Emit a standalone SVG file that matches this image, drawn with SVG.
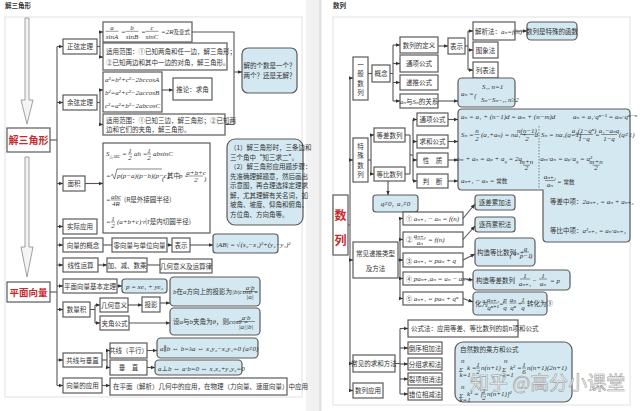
<svg xmlns="http://www.w3.org/2000/svg" width="640" height="411" viewBox="0 0 640 411">
<defs>
<marker id="a" markerWidth="5" markerHeight="5" refX="4.5" refY="2.5" orient="auto" markerUnits="userSpaceOnUse"><path d="M0,0.6 L4.5,2.5 L0,4.4 Z" fill="#333"/></marker>
<style>
.bx{fill:#fff;stroke:#5a5a5a;stroke-width:1.2}
.bu{fill:#d3e8f1;stroke:#5a5a5a;stroke-width:1.2}
.t{font-family:"Noto Sans CJK SC","Noto Sans",sans-serif;font-size:6.5px;fill:#333}
.c{text-anchor:middle}
.e{text-anchor:end}
.m{font-family:"Liberation Serif","DejaVu Serif","Noto Sans CJK SC",serif;font-style:italic;font-size:7px;fill:#333}
.k{font-family:"Noto Sans CJK SC",sans-serif;font-style:normal}
.red{font-family:"Noto Sans CJK SC",sans-serif;font-weight:bold;fill:#c8282e}
.ln line,.ln path,.ln polyline{stroke:#555;stroke-width:1.1;fill:none}
.ln .ar{marker-end:url(#a)}
.fl{stroke:#333;stroke-width:0.5}
.fr{fill:none;stroke:#e2e2e2;stroke-width:1}
.ha{fill:#f4f4f4;stroke:#8a8a8a;stroke-width:0.8}
</style>
</defs>
<rect width="640" height="411" fill="#fff"/>
<rect x="306" y="0" width="16" height="411" fill="#f1f1f1"/>
<line x1="320" y1="0" x2="320" y2="411" stroke="#d0d0d0" stroke-width="1"/>

<!-- ================= LEFT PAGE ================= -->
<text x="5" y="8" class="t" font-size="4.5" font-weight="bold">解三角形</text>
<rect class="fr" x="5" y="17" width="297" height="380"/>
<path class="ha" d="M25,18 H29 V100 H33 L27,124 L21,100 H25 Z"/>
<path class="ha" d="M25,157 H29 V247 H33 L27,277 L21,247 H25 Z"/>

<g id="n-jsjx"><rect class="bx" x="7" y="128" width="43" height="24"/><text class="red c" x="28.5" y="144" font-size="10">解三角形</text></g>
<g id="n-pmxl"><rect class="bx" x="7" y="282" width="43" height="20"/><text class="red c" x="28.5" y="296" font-size="9.5">平面向量</text></g>

<g id="n-zx"><rect class="bx" x="63" y="39" width="34" height="15"/><text class="t c" x="80" y="49">正弦定理</text></g>
<g id="n-yx"><rect class="bx" x="63" y="95" width="34" height="15"/><text class="t c" x="80" y="105">余弦定理</text></g>
<g id="n-mj"><rect class="bx" x="63" y="176" width="22" height="15"/><text class="t c" x="74" y="186">面积</text></g>
<g id="n-sjyy"><rect class="bx" x="63" y="219" width="34" height="15"/><text class="t c" x="80" y="229">实际应用</text></g>
<g id="n-xlgn"><rect class="bx" x="63" y="238" width="40" height="14"/><text class="t c" x="83" y="247.5">向量的概念</text></g>
<g id="n-xxys"><rect class="bx" x="63" y="258" width="35" height="14"/><text class="t c" x="80.5" y="267.5">线性运算</text></g>
<g id="n-jbdl"><rect class="bx" x="63" y="279" width="54" height="14"/><text class="t c" x="90" y="288.5">平面向量基本定理</text></g>
<g id="n-slj"><rect class="bx" x="63" y="302" width="27" height="15"/><text class="t c" x="76.5" y="312">数量积</text></g>
<g id="n-gxcz"><rect class="bx" x="63" y="353" width="39" height="14"/><text class="t c" x="82.5" y="362.5">共线与垂直</text></g>
<g id="n-xlyy"><rect class="bx" x="63" y="378" width="39" height="15"/><text class="t c" x="82.5" y="388">向量的应用</text></g>

<g id="n-zx-f">
<rect class="bx" x="103" y="22" width="89" height="20"/>
<text class="m c" x="112" y="29.5" font-size="6">a</text><line class="fl" x1="105.5" y1="31.3" x2="118.5" y2="31.3"/><text class="m c" x="112" y="38.5" font-size="6">sinA</text>
<text class="m" x="121" y="34" font-size="6">=</text>
<text class="m c" x="132" y="29.5" font-size="6">b</text><line class="fl" x1="125.5" y1="31.3" x2="138.5" y2="31.3"/><text class="m c" x="132" y="38.5" font-size="6">sinB</text>
<text class="m" x="141" y="34" font-size="6">=</text>
<text class="m c" x="152" y="29.5" font-size="6">c</text><line class="fl" x1="145.5" y1="31.3" x2="158.5" y2="31.3"/><text class="m c" x="152" y="38.5" font-size="6">sinC</text>
<text class="m" x="161" y="34" font-size="6">=2R<tspan class="k" font-size="5.5">及变式</tspan></text>
</g>
<g id="n-zx-sy"><rect class="bx" x="103" y="43" width="124" height="27"/>
<text class="t" x="106" y="54" font-size="5.8">适用范围：①已知两角和任一边，解三角形；</text>
<text class="t" x="106" y="65" font-size="5.8">②已知两边和其中一边的对角，解三角形。</text></g>
<g id="n-yx-f"><rect class="bx" x="103" y="72" width="59" height="40"/>
<text class="m" x="105" y="82" font-size="6.5">a²=b²+c²−2bccosA</text>
<text class="m" x="105" y="95" font-size="6.5">b²=a²+c²−2accosB</text>
<text class="m" x="105" y="108" font-size="6.5">c²=a²+b²−2abcosC</text></g>
<g id="n-tl"><rect class="bx" x="173" y="78" width="39" height="22"/><text class="t c" x="192.5" y="91.5" font-size="6">推论：求角</text></g>
<g id="n-yx-sy"><rect class="bx" x="103" y="114" width="122" height="21"/>
<text class="t" x="106" y="122.5" font-size="5.8">适用范围：①已知三边，解三角形；②已知两</text>
<text class="t" x="106" y="131.5" font-size="5.8">边和它们的夹角，解三角形。</text></g>
<g id="n-jgs"><rect class="bu" x="242" y="48" width="55" height="45" rx="6"/>
<text class="t c" x="269.5" y="68" font-size="6">解的个数是一个？</text>
<text class="t c" x="269.5" y="78" font-size="6">两个？还是无解？</text></g>

<g id="n-mj-f"><rect class="bx" x="103" y="143" width="107" height="90"/>
<text class="m" x="106" y="156">S<tspan font-size="4" dy="1.5">△ABC</tspan><tspan dy="-1.5"> =</tspan></text>
<text class="m c" x="130" y="152.5" font-size="5">1</text><line class="fl" x1="128" y1="154" x2="132" y2="154"/><text class="m c" x="130" y="159.5" font-size="5">2</text>
<text class="m" x="134" y="156">ah =</text>
<text class="m c" x="149" y="152.5" font-size="5">1</text><line class="fl" x1="147" y1="154" x2="151" y2="154"/><text class="m c" x="149" y="159.5" font-size="5">2</text>
<text class="m" x="153" y="156">absinC</text>
<text class="m" x="106" y="178">=</text>
<path d="M111,175.5 l1.5,-1 l2,4.5 l2.5,-10 H162" fill="none" stroke="#333" stroke-width="0.6"/>
<text class="m" x="117" y="178" font-size="6.3">p(p−a)(p−b)(p−c)</text>
<text class="m" x="162" y="181" font-size="13" font-style="normal">(</text>
<text class="t" x="167" y="178" font-size="5.5">其中</text>
<text class="m" x="179" y="178" font-size="6.5">p =</text>
<text class="m c" x="196" y="174.5" font-size="5.5">a+b+c</text><line class="fl" x1="189" y1="176" x2="203" y2="176"/><text class="m c" x="196" y="182" font-size="5.5">2</text>
<text class="m" x="204" y="181" font-size="13" font-style="normal">)</text>
<text class="m" x="106" y="202">=</text>
<text class="m c" x="116" y="198.5" font-size="5.5">abc</text><line class="fl" x1="111" y1="200" x2="121" y2="200"/><text class="m c" x="116" y="206" font-size="5.5">4R</text>
<text class="t" x="124" y="202" font-size="5.5">(R是外接圆半径)</text>
<text class="m" x="106" y="224">=</text>
<text class="m c" x="113" y="220.5" font-size="5">1</text><line class="fl" x1="111" y1="222" x2="115" y2="222"/><text class="m c" x="113" y="227.5" font-size="5">2</text>
<text class="m" x="117" y="224" font-size="6.5">(a+b+c)·r</text>
<text class="t" x="145" y="224" font-size="5.5">(r是内切圆半径)</text>
</g>
<g id="n-note"><rect class="bu" x="227" y="139" width="76" height="86" rx="8"/>
<text class="t" x="230" y="150" font-size="5.8">（1）解三角形时，三条边和</text>
<text class="t" x="230" y="159.5" font-size="5.8">三个角中“知三求二”。</text>
<text class="t" x="230" y="169" font-size="5.8">（2）解三角形应用题步骤：</text>
<text class="t" x="230" y="178.5" font-size="5.8">先准确理解题意，然后画出</text>
<text class="t" x="230" y="188" font-size="5.8">示意图，再合理选择定理求</text>
<text class="t" x="230" y="197.5" font-size="5.8">解，尤其理解有关名词，如</text>
<text class="t" x="230" y="207" font-size="5.8">坡角、坡度、仰角和俯角、</text>
<text class="t" x="230" y="216.5" font-size="5.8">方位角、方向角等。</text></g>

<g id="n-lxl"><rect class="bx" x="112" y="238" width="55" height="14"/><text class="t c" x="139.5" y="247.5">零向量与单位向量</text></g>
<g id="n-bs1"><rect class="bx" x="172" y="238" width="18" height="14"/><text class="t c" x="181" y="247.5" font-size="6">表示</text></g>
<g id="n-mo"><rect class="bu" x="213" y="234" width="65" height="19" rx="3"/><text class="m" x="216" y="246.5" font-size="6.5">|AB| = √(x₂−x₁)²+(y₂−y₁)²</text></g>
<g id="n-jjs"><rect class="bx" x="107" y="258" width="40" height="14"/><text class="t c" x="127" y="267.5" font-size="6">加、减、数乘</text></g>
<g id="n-jhyy"><rect class="bx" x="160" y="259" width="52" height="14"/><text class="t c" x="186" y="268.5" font-size="6">几何意义及运算律</text></g>
<g id="n-pxe"><rect class="bu" x="122" y="279" width="45" height="14" rx="3"/><text class="m c" x="144.5" y="289" font-size="7">p = xe₁ + ye₂</text></g>
<g id="n-jhyy2"><rect class="bx" x="100" y="298" width="28" height="14"/><text class="t c" x="114" y="307.5" font-size="6">几何意义</text></g>
<g id="n-jjgs"><rect class="bx" x="100" y="316" width="29" height="14"/><text class="t c" x="114.5" y="325.5" font-size="6">夹角公式</text></g>
<g id="n-ty"><rect class="bx" x="142" y="297" width="18" height="15"/><text class="t c" x="151" y="307" font-size="6">投影</text></g>
<g id="n-tyf"><rect class="bu" x="170" y="277" width="90" height="29" rx="4"/>
<text class="t" x="173" y="294" font-size="5.8"><tspan class="m" font-size="6.5">b</tspan>在<tspan class="m" font-size="6.5">a</tspan>方向上的投影为<tspan class="m" font-size="6.5">|b|cosθ =</tspan></text>
<text class="m c" x="250" y="289.5" font-size="6">a·b</text><line class="fl" x1="243" y1="291.5" x2="257" y2="291.5"/><text class="m c" x="250" y="299" font-size="6">|a|</text></g>
<g id="n-jjf"><rect class="bu" x="170" y="308" width="90" height="27" rx="4"/>
<text class="t" x="173" y="324" font-size="5.8">设<tspan class="m" font-size="6.5">a</tspan>与<tspan class="m" font-size="6.5">b</tspan>夹角为<tspan class="m" font-size="6.5">θ</tspan>，则<tspan class="m" font-size="6.5">cosθ =</tspan></text>
<text class="m c" x="246" y="319.5" font-size="6">a·b</text><line class="fl" x1="237" y1="321.5" x2="255" y2="321.5"/><text class="m c" x="246" y="329" font-size="6">|a||b|</text></g>
<g id="n-gx"><rect class="bx" x="110" y="343" width="37" height="15"/><text class="t c" x="128.5" y="353" font-size="6">共线（平行）</text></g>
<g id="n-cz"><rect class="bx" x="110" y="360" width="37" height="15"/><text class="t c" x="128.5" y="370" font-size="6">垂　直</text></g>
<g id="n-gxf"><rect class="bu" x="157" y="338" width="101" height="20" rx="4"/><text class="m" x="160" y="351" font-size="6.5">a∥b ⇔ b=λa ⇔ x₁y₂−x₂y₁=0 (a≠0)</text></g>
<g id="n-czf"><rect class="bu" x="155" y="360" width="87" height="15" rx="4"/><text class="m" x="158" y="370.5" font-size="6.5">a⊥b ⇔ a·b=0 ⇔ x₁x₂+y₁y₂=0</text></g>
<g id="n-yyf"><rect class="bx" x="110" y="378" width="177" height="17"/><text class="t" x="113" y="389" font-size="5.8">在平面（解析）几何中的应用，在物理（力向量、速度向量）中应用</text></g>

<!-- ================= RIGHT PAGE ================= -->
<text x="333" y="8" class="t" font-size="4.5" font-weight="bold">数列</text>
<rect class="fr" x="333" y="17" width="297" height="388"/>

<g id="n-sl"><rect class="bx" x="333" y="195" width="15" height="60"/><text class="red c" x="340.5" y="220" font-size="12">数</text><text class="red c" x="340.5" y="245" font-size="12">列</text></g>
<g id="n-ybsl"><rect class="bx" x="353" y="57" width="15" height="43"/>
<text class="t c" x="360.5" y="66.5">一</text><text class="t c" x="360.5" y="76">般</text><text class="t c" x="360.5" y="85.5">数</text><text class="t c" x="360.5" y="95">列</text></g>
<g id="n-gn"><rect class="bx" x="372" y="65" width="18" height="17"/><text class="t c" x="381" y="76">概念</text></g>
<g id="n-dy"><rect class="bx" x="400" y="37" width="38" height="16"/><text class="t c" x="419" y="47.5">数列的定义</text></g>
<g id="n-txgs"><rect class="bx" x="400" y="55" width="38" height="17"/><text class="t c" x="419" y="66">通项公式</text></g>
<g id="n-dtgs"><rect class="bx" x="400" y="75" width="38" height="15"/><text class="t c" x="419" y="85">递推公式</text></g>
<g id="n-gx2"><rect class="bx" x="400" y="94" width="38" height="14"/><text class="t c" x="419" y="103.5" font-size="6"><tspan class="m">aₙ</tspan>与<tspan class="m">Sₙ</tspan>的关系</text></g>
<g id="n-bs2"><rect class="bx" x="448" y="38" width="17" height="16"/><text class="t c" x="456.5" y="48.5" font-size="6">表示</text></g>
<g id="n-jxf"><rect class="bx" x="473" y="22" width="42" height="18"/><text class="t" x="475" y="33.5" font-size="5.3">解析法：<tspan class="m" font-size="6">aₙ=f(n)</tspan></text></g>
<g id="n-txf"><rect class="bx" x="473" y="42" width="25" height="16"/><text class="t c" x="485.5" y="52.5" font-size="6">图象法</text></g>
<g id="n-lbf"><rect class="bx" x="473" y="62" width="25" height="16"/><text class="t c" x="485.5" y="72.5" font-size="6">列表法</text></g>
<g id="n-tshs"><rect class="bu" x="527" y="22" width="50" height="18" rx="4"/><text class="t c" x="552" y="33.5" font-size="5.8">数列是特殊的函数</text></g>
<g id="n-an"><rect class="bu" x="458" y="78" width="57" height="29" rx="4"/>
<text class="m" x="461" y="96" font-size="7">aₙ =</text>
<text class="m" x="474" y="98" font-size="16" font-style="normal">{</text>
<text class="m" x="482" y="89" font-size="6">S₁, n=1</text>
<text class="m" x="481" y="102" font-size="6">Sₙ−Sₙ₋₁, n≥2</text></g>

<g id="n-tssl"><rect class="bx" x="353" y="138" width="15" height="44"/>
<text class="t c" x="360.5" y="148.5">特</text><text class="t c" x="360.5" y="158">殊</text><text class="t c" x="360.5" y="167.5">数</text><text class="t c" x="360.5" y="177">列</text></g>
<g id="n-dcsl"><rect class="bx" x="374" y="128" width="31" height="14"/><text class="t c" x="389.5" y="137.5" font-size="6">等差数列</text></g>
<g id="n-dbsl"><rect class="bx" x="374" y="167" width="31" height="14"/><text class="t c" x="389.5" y="176.5" font-size="6">等比数列</text></g>
<g id="n-tx2"><rect class="bx" x="417" y="113" width="31" height="13"/><text class="t c" x="432.5" y="122" font-size="6">通项公式</text></g>
<g id="n-qh"><rect class="bx" x="417" y="135" width="31" height="13"/><text class="t c" x="432.5" y="144" font-size="6">求和公式</text></g>
<g id="n-xz"><rect class="bx" x="417" y="153" width="31" height="14"/><text class="t c" x="432.5" y="162.5" font-size="6">性　质</text></g>
<g id="n-pd"><rect class="bx" x="417" y="174" width="31" height="14"/><text class="t c" x="432.5" y="183.5" font-size="6">判　断</text></g>
<g id="n-fm">
<path class="bu" d="M462,109 H626 Q630,109 630,113 V238 Q630,242 626,242 H547 Q543,242 543,238 V190 H462 Q458,190 458,186 V113 Q458,109 462,109 Z"/>
<line x1="539" y1="126" x2="539" y2="188" stroke="#555" stroke-width="0.7" stroke-dasharray="1.5,1.5"/>
<text class="m" x="461" y="119" font-size="6.8">aₙ = a₁ + (n−1)d = aₘ + (n−m)d</text>
<text class="m" x="573" y="119" font-size="6.3">aₙ = a₁·qⁿ⁻¹ = aₘ·qⁿ⁻ᵐ</text>
<text class="m" x="461" y="137" font-size="6.5">Sₙ =</text>
<text class="m c" x="477" y="133" font-size="5">n</text><line class="fl" x1="474.5" y1="134.5" x2="479.5" y2="134.5"/><text class="m c" x="477" y="140.5" font-size="5">2</text>
<text class="m" x="481" y="137" font-size="6.5">(a₁+aₙ) = na₁ +</text>
<text class="m c" x="527" y="133" font-size="5">n(n−1)</text><line class="fl" x1="520" y1="134.5" x2="534" y2="134.5"/><text class="m c" x="527" y="140.5" font-size="5">2</text>
<text class="m" x="534.5" y="137" font-size="6.5">d</text>
<text class="m" x="541" y="137" font-size="5.5">Sₙ = na₁(q=1)</text>
<text class="m c" x="584" y="133" font-size="5">a₁(1−qⁿ)</text><line class="fl" x1="575" y1="134.5" x2="593" y2="134.5"/><text class="m c" x="584" y="140.5" font-size="5">1−q</text>
<text class="m" x="595" y="137" font-size="5.5">=</text>
<text class="m c" x="609" y="133" font-size="5">a₁−aₙq</text><line class="fl" x1="601" y1="134.5" x2="617" y2="134.5"/><text class="m c" x="609" y="140.5" font-size="5">1−q</text>
<text class="m" x="619" y="137" font-size="5">(q≠1)</text>
<text class="m e" x="522" y="161" font-size="7">aₘ + aₙ = aₚ + a<tspan font-size="4.5" dy="1.5">q</tspan><tspan dy="-1.5"> = 2a</tspan></text>
<text class="m c" x="526.5" y="164" font-size="4">m+n</text><line class="fl" x1="523" y1="165.2" x2="530" y2="165.2"/><text class="m c" x="526.5" y="169.5" font-size="4">2</text>
<text class="m e" x="592" y="161" font-size="7">aₘ·aₙ = aₚ·a<tspan font-size="4.5" dy="1.5">q</tspan><tspan dy="-1.5"> = a²</tspan></text>
<text class="m c" x="596" y="164" font-size="4">m+n</text><line class="fl" x1="592.5" y1="165.2" x2="599.5" y2="165.2"/><text class="m c" x="596" y="169.5" font-size="4">2</text>
<text class="m" x="461" y="183" font-size="6">aₙ₊₁ − aₙ = <tspan class="k" font-size="5.5">常数</tspan></text>
<text class="m c" x="550" y="179" font-size="5">aₙ₊₁</text><line class="fl" x1="545" y1="180.5" x2="555" y2="180.5"/><text class="m c" x="550" y="187" font-size="5">aₙ</text>
<text class="m" x="557" y="184" font-size="6">= <tspan class="k" font-size="5.5">常数</tspan></text>
<text class="t" x="550" y="204" font-size="6.5">等差中项：<tspan class="m" font-size="7.5">2aₙ₊₁ = aₙ + aₙ₊₂</tspan></text>
<text class="t" x="550" y="233" font-size="6.5">等比中项：<tspan class="m" font-size="7.5">a²ₙ₊₁ = aₙ·aₙ₊₂</tspan></text>
</g>
<g id="n-q0"><rect class="bu" x="373" y="195" width="45" height="17" rx="3"/><text class="m c" x="395.5" y="206" font-size="6.5">q≠0<tspan class="k" font-size="5.5">，</tspan>a₁≠0</text></g>

<g id="n-dtlx"><rect class="bx" x="353" y="242" width="45" height="36"/><text class="t c" x="375.5" y="256" font-size="6.3">常见递推类型</text><text class="t c" x="375.5" y="271" font-size="6.3">及方法</text></g>
<g id="n-r1"><rect class="bx" x="403" y="212" width="60" height="13"/><text class="m" x="406" y="221" font-size="6.3"><tspan class="k" font-size="6">①</tspan> aₙ₊₁ − aₙ = f(n)</text></g>
<g id="n-r2"><rect class="bx" x="403" y="232" width="60" height="15"/><text class="k t" x="406" y="242" font-size="6">②</text>
<text class="m c" x="420" y="237.5" font-size="4.5">aₙ₊₁</text><line class="fl" x1="415" y1="239" x2="425" y2="239"/><text class="m c" x="420" y="244.5" font-size="4.5">aₙ</text><text class="m" x="428" y="242" font-size="6.3">= f(n)</text></g>
<g id="n-r3"><rect class="bx" x="403" y="253" width="60" height="14"/><text class="m" x="406" y="262.5" font-size="6.3"><tspan class="k" font-size="6">③</tspan> aₙ₊₁ = paₙ + q</text></g>
<g id="n-r4"><rect class="bx" x="403" y="272" width="60" height="13"/><text class="m" x="406" y="281" font-size="6"><tspan class="k" font-size="6">④</tspan> paₙ₊₁aₙ = aₙ − aₙ₊₁</text></g>
<g id="n-r5"><rect class="bx" x="403" y="292" width="60" height="13"/><text class="m" x="406" y="301" font-size="6.3"><tspan class="k" font-size="6">⑤</tspan> aₙ₊₁ = paₙ + qⁿ</text></g>
<g id="n-zcl"><rect class="bu" x="475" y="195" width="40" height="15" rx="3"/><text class="t c" x="495" y="205" font-size="6">逐差累加法</text></g>
<g id="n-zsl"><rect class="bu" x="475" y="217" width="40" height="15" rx="3"/><text class="t c" x="495" y="227" font-size="6">逐商累积法</text></g>
<g id="n-gzdb"><rect class="bu" x="475" y="238" width="60" height="28" rx="4"/><text class="t" x="477" y="255" font-size="5.5">构造等比数列</text>
<text class="m" x="509.5" y="257.5" font-size="12" font-style="normal">(</text><text class="m" x="513" y="255" font-size="5.3">aₙ+</text>
<text class="m c" x="525.5" y="250.5" font-size="4.5">q</text><line class="fl" x1="522" y1="252" x2="529" y2="252"/><text class="m c" x="525.5" y="257.5" font-size="4.5">p−1</text>
<text class="m" x="530" y="257.5" font-size="12" font-style="normal">)</text></g>
<g id="n-gzdc"><rect class="bu" x="473" y="270" width="97" height="20" rx="4"/><text class="t" x="476" y="283" font-size="6">构造等差数列</text>
<text class="m c" x="525" y="277.5" font-size="5">1</text><line class="fl" x1="520" y1="279" x2="530" y2="279"/><text class="m c" x="525" y="286" font-size="5">aₙ₊₁</text>
<text class="m" x="532" y="282.5" font-size="6">−</text>
<text class="m c" x="543" y="277.5" font-size="5">1</text><line class="fl" x1="539" y1="279" x2="547" y2="279"/><text class="m c" x="543" y="286" font-size="5">aₙ</text>
<text class="m" x="550" y="282.5" font-size="6">= p</text></g>
<g id="n-hw"><rect class="bu" x="473" y="292" width="74" height="23" rx="4"/><text class="t" x="475" y="306" font-size="5.3">化为</text>
<text class="m c" x="493" y="301.5" font-size="4.5">aₙ₊₁</text><line class="fl" x1="488.5" y1="303" x2="497.5" y2="303"/><text class="m c" x="493" y="309.5" font-size="4.5">qⁿ⁺¹</text>
<text class="m" x="499" y="306" font-size="5.5">=</text>
<text class="m c" x="505" y="301.5" font-size="4.5">p</text><line class="fl" x1="503" y1="303" x2="507" y2="303"/><text class="m c" x="505" y="309.5" font-size="4.5">q</text>
<text class="m c" x="513" y="301.5" font-size="4.5">aₙ</text><line class="fl" x1="509.5" y1="303" x2="516.5" y2="303"/><text class="m c" x="513" y="309.5" font-size="4.5">qⁿ</text>
<text class="m" x="517.5" y="306" font-size="5.5">+</text>
<text class="m c" x="523" y="301.5" font-size="4.5">1</text><line class="fl" x1="521" y1="303" x2="525" y2="303"/><text class="m c" x="523" y="309.5" font-size="4.5">q</text>
<text class="t" x="527" y="306" font-size="4.8">转化为③</text></g>

<g id="n-qhff"><rect class="bx" x="353" y="355" width="42" height="17"/><text class="t c" x="374" y="366" font-size="5.6">常见的求和方法</text></g>
<g id="n-gsf"><rect class="bx" x="408" y="320" width="110" height="17"/><text class="t" x="411" y="331" font-size="5.3">公式法：应用等差、等比数列的前n项和公式</text></g>
<g id="n-dx"><rect class="bx" x="408" y="342" width="34" height="12"/><text class="t c" x="425" y="350.5" font-size="5.8">倒序相加法</text></g>
<g id="n-fz"><rect class="bx" x="408" y="358" width="34" height="12"/><text class="t c" x="425" y="366.5" font-size="5.8">分组求和法</text></g>
<g id="n-lx"><rect class="bx" x="408" y="373" width="34" height="12"/><text class="t c" x="425" y="381.5" font-size="5.8">裂项相消法</text></g>
<g id="n-cw"><rect class="bx" x="408" y="388" width="34" height="12"/><text class="t c" x="425" y="396.5" font-size="5.8">错位相减法</text></g>
<g id="n-zrs"><rect class="bu" x="455" y="342" width="117" height="60" rx="8"/>
<text class="t" x="460" y="352" font-size="5.3">自然数的乘方和公式</text>
<text class="m" x="459" y="372" font-size="9" font-style="normal">Σ</text><text class="m" x="461" y="362.5" font-size="3.5">n</text><text class="m" x="459.5" y="377" font-size="3.5">k=1</text>
<text class="m" x="467" y="370" font-size="6">k =</text>
<text class="m c" x="478" y="366.5" font-size="4.5">1</text><line class="fl" x1="476" y1="368" x2="480" y2="368"/><text class="m c" x="478" y="373.5" font-size="4.5">2</text>
<text class="m" x="481" y="370" font-size="6">n(n+1)</text>
<text class="m" x="502" y="372" font-size="9" font-style="normal">Σ</text><text class="m" x="504" y="362.5" font-size="3.5">n</text><text class="m" x="502.5" y="377" font-size="3.5">k=1</text>
<text class="m" x="510" y="370" font-size="6">k² =</text>
<text class="m c" x="524" y="366.5" font-size="4.5">1</text><line class="fl" x1="522" y1="368" x2="526" y2="368"/><text class="m c" x="524" y="373.5" font-size="4.5">6</text>
<text class="m" x="527" y="370" font-size="6">n(n+1)(2n+1)</text>
<text class="m" x="459" y="398" font-size="9" font-style="normal">Σ</text><text class="m" x="461" y="388.5" font-size="3.5">n</text><text class="m" x="459.5" y="401.5" font-size="3.5">k=1</text>
<text class="m" x="467" y="396" font-size="6">k³ = [</text>
<text class="m c" x="484" y="392.5" font-size="4.5">1</text><line class="fl" x1="482" y1="394" x2="486" y2="394"/><text class="m c" x="484" y="399.5" font-size="4.5">2</text>
<text class="m" x="487" y="396" font-size="6">n(n+1)]²</text></g>
<g id="n-ysl"><rect class="bx" x="353" y="383" width="30" height="15"/><text class="t c" x="368" y="393" font-size="6">数列应用</text></g>

<!-- ================= CONNECTORS ================= -->
<g id="connectors" class="ln">
<line x1="50" y1="140" x2="57" y2="140"/><line x1="50" y1="292" x2="57" y2="292"/>
<line x1="57" y1="46.5" x2="57" y2="385.5"/>
<line class="ar" x1="57" y1="46.5" x2="63" y2="46.5"/>
<line class="ar" x1="57" y1="102.5" x2="63" y2="102.5"/>
<line class="ar" x1="57" y1="183.5" x2="63" y2="183.5"/>
<line class="ar" x1="57" y1="226.5" x2="63" y2="226.5"/>
<line class="ar" x1="57" y1="245" x2="63" y2="245"/>
<line class="ar" x1="57" y1="265" x2="63" y2="265"/>
<line class="ar" x1="57" y1="286" x2="63" y2="286"/>
<line class="ar" x1="57" y1="309.5" x2="63" y2="309.5"/>
<line class="ar" x1="57" y1="360" x2="63" y2="360"/>
<line class="ar" x1="57" y1="385.5" x2="63" y2="385.5"/>
<line x1="97" y1="46.5" x2="100" y2="46.5"/><line x1="100" y1="32" x2="100" y2="57"/>
<line class="ar" x1="100" y1="32" x2="103" y2="32"/><line class="ar" x1="100" y1="57" x2="103" y2="57"/>
<line x1="97" y1="102.5" x2="100" y2="102.5"/><line x1="100" y1="90" x2="100" y2="124.5"/>
<line class="ar" x1="100" y1="90" x2="103" y2="90"/><line class="ar" x1="100" y1="124.5" x2="103" y2="124.5"/>
<line class="ar" x1="162" y1="90" x2="173" y2="90"/>
<polyline points="192,32 234,32 234,124.5 225,124.5"/>
<line class="ar" x1="234" y1="72" x2="242" y2="72"/>
<line class="ar" x1="85" y1="183.5" x2="103" y2="183.5"/>
<line x1="103" y1="245" x2="112" y2="245"/>
<line class="ar" x1="167" y1="245" x2="172" y2="245"/>
<line class="ar" x1="190" y1="245" x2="213" y2="245"/>
<line class="ar" x1="98" y1="265" x2="107" y2="265"/>
<line x1="147" y1="265" x2="160" y2="265"/>
<line class="ar" x1="117" y1="286" x2="122" y2="286"/>
<line x1="90" y1="309.5" x2="95" y2="309.5"/><line x1="95" y1="305" x2="95" y2="323"/>
<line class="ar" x1="95" y1="305" x2="100" y2="305"/><line class="ar" x1="95" y1="323" x2="100" y2="323"/>
<line class="ar" x1="128" y1="305" x2="142" y2="305"/>
<line class="ar" x1="160" y1="303" x2="170" y2="303"/>
<line class="ar" x1="129" y1="323" x2="170" y2="323"/>
<line x1="102" y1="360" x2="107" y2="360"/><line x1="107" y1="350.5" x2="107" y2="367.5"/>
<line class="ar" x1="107" y1="350.5" x2="110" y2="350.5"/><line class="ar" x1="107" y1="367.5" x2="110" y2="367.5"/>
<line class="ar" x1="147" y1="350.5" x2="157" y2="350.5"/>
<line class="ar" x1="147" y1="367.5" x2="155" y2="367.5"/>
<line class="ar" x1="102" y1="385.5" x2="110" y2="385.5"/>

<line x1="348" y1="225" x2="350" y2="225"/>
<line x1="350" y1="78" x2="350" y2="390.5"/>
<line class="ar" x1="350" y1="78" x2="353" y2="78"/>
<line class="ar" x1="350" y1="160" x2="353" y2="160"/>
<line class="ar" x1="350" y1="260" x2="353" y2="260"/>
<line class="ar" x1="350" y1="363.5" x2="353" y2="363.5"/>
<line class="ar" x1="350" y1="390.5" x2="353" y2="390.5"/>
<line x1="368" y1="73.5" x2="372" y2="73.5"/>
<line x1="390" y1="73.5" x2="393" y2="73.5"/><line x1="393" y1="45" x2="393" y2="101"/>
<line class="ar" x1="393" y1="45" x2="400" y2="45"/>
<line class="ar" x1="393" y1="63.5" x2="400" y2="63.5"/>
<line class="ar" x1="393" y1="82.5" x2="400" y2="82.5"/>
<line class="ar" x1="393" y1="101" x2="400" y2="101"/>
<line class="ar" x1="438" y1="46" x2="448" y2="46"/>
<line x1="465" y1="46" x2="468" y2="46"/><line x1="468" y1="31" x2="468" y2="70"/>
<line class="ar" x1="468" y1="31" x2="473" y2="31"/>
<line class="ar" x1="468" y1="50" x2="473" y2="50"/>
<line class="ar" x1="468" y1="70" x2="473" y2="70"/>
<line class="ar" x1="515" y1="31" x2="527" y2="31"/>
<line class="ar" x1="438" y1="101" x2="458" y2="101"/>
<line x1="368" y1="160" x2="371" y2="160"/><line x1="371" y1="135" x2="371" y2="174"/>
<line class="ar" x1="371" y1="135" x2="374" y2="135"/>
<line class="ar" x1="371" y1="174" x2="374" y2="174"/>
<line x1="405" y1="135" x2="410" y2="135"/><line x1="405" y1="174" x2="410" y2="174"/>
<line x1="410" y1="135" x2="410" y2="174"/><line x1="410" y1="155" x2="413" y2="155"/>
<line x1="413" y1="119.5" x2="413" y2="181"/>
<line class="ar" x1="413" y1="119.5" x2="417" y2="119.5"/>
<line class="ar" x1="413" y1="141.5" x2="417" y2="141.5"/>
<line class="ar" x1="413" y1="160" x2="417" y2="160"/>
<line class="ar" x1="413" y1="181" x2="417" y2="181"/>
<line class="ar" x1="448" y1="119.5" x2="458" y2="119.5"/>
<line class="ar" x1="448" y1="141.5" x2="458" y2="141.5"/>
<line class="ar" x1="448" y1="160" x2="458" y2="160"/>
<line class="ar" x1="448" y1="181" x2="458" y2="181"/>
<line class="ar" x1="388" y1="181" x2="388" y2="195"/>
<line x1="398" y1="260" x2="400" y2="260"/><line x1="400" y1="218.5" x2="400" y2="298.5"/>
<line class="ar" x1="400" y1="218.5" x2="403" y2="218.5"/>
<line class="ar" x1="400" y1="239.5" x2="403" y2="239.5"/>
<line class="ar" x1="400" y1="260" x2="403" y2="260"/>
<line class="ar" x1="400" y1="278.5" x2="403" y2="278.5"/>
<line class="ar" x1="400" y1="298.5" x2="403" y2="298.5"/>
<line class="ar" x1="463" y1="218.5" x2="475" y2="204"/>
<line class="ar" x1="463" y1="239.5" x2="475" y2="226"/>
<line class="ar" x1="463" y1="260" x2="475" y2="254"/>
<line class="ar" x1="463" y1="278.5" x2="473" y2="280"/>
<line class="ar" x1="463" y1="298.5" x2="473" y2="302"/>
<line x1="395" y1="363.5" x2="400" y2="363.5"/><line x1="400" y1="328.5" x2="400" y2="394"/>
<line class="ar" x1="400" y1="328.5" x2="408" y2="328.5"/>
<line class="ar" x1="400" y1="348" x2="408" y2="348"/>
<line class="ar" x1="400" y1="364" x2="408" y2="364"/>
<line class="ar" x1="400" y1="379" x2="408" y2="379"/>
<line class="ar" x1="400" y1="394" x2="408" y2="394"/>
</g>

<text x="470" y="390" font-family="Noto Sans CJK SC,sans-serif" font-size="19" fill="#ffffff" fill-opacity="0.85" stroke="#9a9a9a" stroke-width="0.6">知乎 @高分小课堂</text>
</svg>
